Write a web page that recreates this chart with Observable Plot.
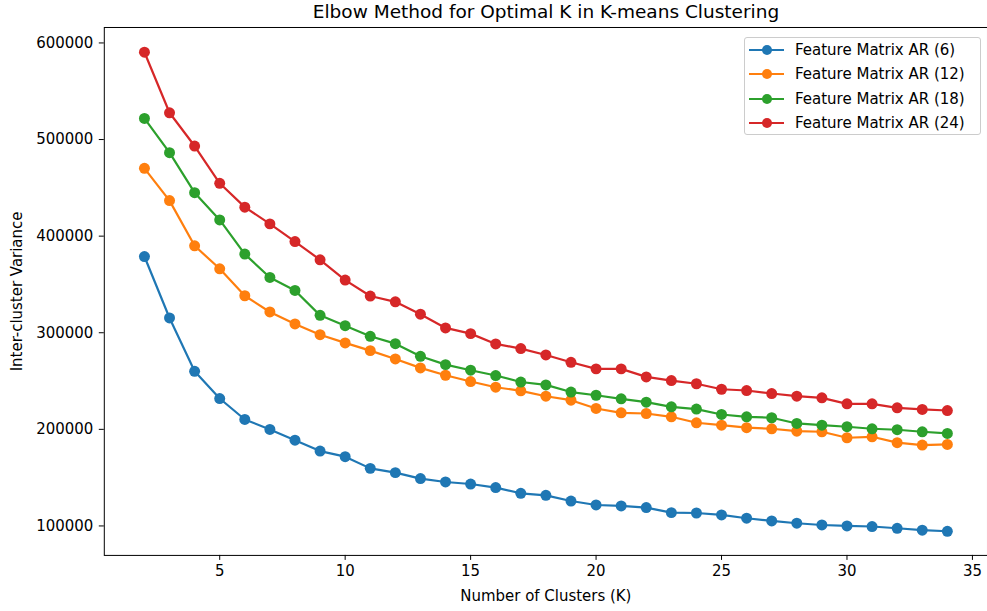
<!DOCTYPE html>
<html>
<head>
<meta charset="utf-8">
<script src="https://cdn.jsdelivr.net/npm/d3@7"></script>
<script src="https://cdn.jsdelivr.net/npm/@observablehq/plot@0.6"></script>
<style>
  body { margin: 0; background: #fff; font-family: "DejaVu Sans", sans-serif; }
  #wrap { position: relative; width: 987px; height: 611px; overflow: hidden; background: #fff; }
  #title { position: absolute; left: 104px; width: 884px; top: 0; height: 24px; line-height: 24px;
           text-align: center; font-size: 18.5px; color: #000; white-space: nowrap; }
  #chart { position: absolute; top: 22px; left: 0; }
  #legend { position: absolute; left: 744px; top: 37px; width: 235px; height: 96px;
            border: 1px solid #cccccc; border-radius: 3px; background: rgba(255,255,255,0.8);
            font-size: 15px; color: #000; }
  .row { position: absolute; left: 0; height: 24px; display: flex; align-items: center; }
  .row svg { position: absolute; left: 3px; top: 6px; }
  .row span { position: absolute; left: 50px; white-space: nowrap; line-height: 24px; top: 0; }
</style>
</head>
<body>
<div id="wrap">
  <div id="title"></div>
  <div id="chart"></div>
  <div id="legend"></div>
</div>
<script>
const titleText = "Elbow Method for Optimal K in K-means Clustering";
const xLabel = "Number of Clusters (K)";
const yLabel = "Inter-cluster Variance";

const kValues = [2, 3, 4, 5, 6, 7, 8, 9, 10, 11, 12, 13, 14, 15, 16, 17, 18, 19, 20, 21, 22, 23, 24, 25, 26, 27, 28, 29, 30, 31, 32, 33, 34];

const seriesNames = ["Feature Matrix AR (6)", "Feature Matrix AR (12)", "Feature Matrix AR (18)", "Feature Matrix AR (24)"];
const seriesColors = ["#1f77b4", "#ff7f0e", "#2ca02c", "#d62728"];

const ar6 = [378900, 315300, 260100, 231900, 210200, 199900, 188800, 177500, 171700, 159600, 155200, 149000, 145500, 143400, 139700, 133800, 131700, 125800, 121700, 120700, 119000, 113800, 113400, 111400, 108000, 105200, 102800, 101000, 100000, 99400, 97600, 95600, 94500];
const ar12 = [470200, 436800, 390000, 366200, 338300, 321500, 309100, 298000, 289500, 281500, 272900, 263600, 256000, 249500, 243600, 239900, 234300, 230200, 221600, 217100, 216400, 213000, 206800, 204300, 201700, 200600, 198100, 197500, 191300, 192300, 186200, 183700, 184400];
const ar18 = [521900, 486400, 445000, 416800, 381400, 357200, 343800, 318000, 307300, 296300, 288700, 275600, 267000, 261200, 255700, 249000, 246000, 238600, 235300, 231600, 228100, 223300, 221000, 215400, 213000, 212000, 206100, 204300, 202700, 200600, 199600, 197500, 195800];
const ar24 = [590400, 527700, 493300, 454700, 430000, 412700, 394400, 375500, 354500, 338000, 332000, 319200, 305000, 299100, 288400, 283600, 277000, 269400, 262600, 262600, 254300, 250500, 247200, 241500, 240200, 237100, 234300, 232600, 226400, 226400, 222300, 220600, 219500];

const xTicks = [5, 10, 15, 20, 25, 30, 35];
const yTicks = [100000, 200000, 300000, 400000, 500000, 600000];

const seriesValues = [ar6, ar12, ar18, ar24];
const data = [];
seriesNames.forEach((name, i) => {
  kValues.forEach((k, j) => data.push({series: name, k: k, v: seriesValues[i][j]}));
});

document.getElementById("title").textContent = titleText;

const chart = Plot.plot({
  width: 989,
  height: 589,
  marginTop: 5,
  marginBottom: 55,
  marginLeft: 104,
  marginRight: 0,
  style: { fontFamily: "DejaVu Sans, sans-serif", fontSize: "15px", color: "#000", background: "transparent", overflow: "visible" },
  x: { domain: [0.4, 35.6] },
  y: { domain: [69500, 616000] },
  color: { domain: seriesNames, range: seriesColors },
  marks: [
    Plot.axisX({ ticks: xTicks, tickSize: 5, tickPadding: 5, label: null, tickFormat: d => String(d), stroke: "#000", fill: "#000" }),
    Plot.axisY({ ticks: yTicks, tickSize: 5, tickPadding: 6, label: null, tickFormat: d => String(d), stroke: "#000", fill: "#000" }),
    Plot.line(data, { x: "k", y: "v", z: "series", stroke: "series", strokeWidth: 2.2 }),
    Plot.dot(data, { x: "k", y: "v", fill: "series", r: 5.5, stroke: "none" }),
    Plot.frame({ stroke: "#000", strokeWidth: 1 }),
    Plot.text([xLabel], { frameAnchor: "bottom", dy: 41, lineAnchor: "middle", textAnchor: "middle", fill: "#000" }),
    Plot.text([yLabel], { frameAnchor: "left", dx: -87, rotate: -90, lineAnchor: "middle", textAnchor: "middle", fill: "#000" })
  ]
});
document.getElementById("chart").appendChild(chart);

const legend = document.getElementById("legend");
seriesNames.forEach((name, i) => {
  const row = document.createElement("div");
  row.className = "row";
  row.style.top = (i * 24.4) + "px";
  row.innerHTML = `<svg width="40" height="12"><line x1="1" x2="36" y1="6" y2="6" stroke="${seriesColors[i]}" stroke-width="2.2"/><circle cx="19" cy="6" r="5" fill="${seriesColors[i]}"/></svg><span>${name}</span>`;
  legend.appendChild(row);
});
</script>
</body>
</html>
